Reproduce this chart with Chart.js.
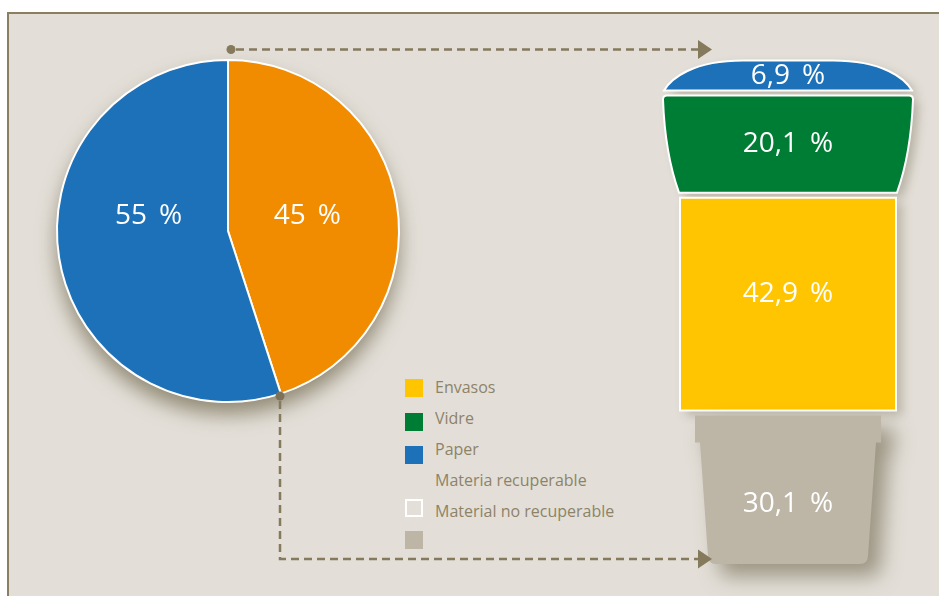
<!DOCTYPE html>
<html>
<head>
<meta charset="utf-8">
<script src="https://cdn.jsdelivr.net/npm/chart.js@4/dist/chart.umd.min.js"></script>
<style>
  html, body { margin: 0; padding: 0; background: #ffffff; width: 939px; height: 596px; overflow: hidden; }
  #frame { position: absolute; left: 7px; top: 12px; width: 960px; height: 620px;
           background: #e3dfd8; border-left: 2px solid #8b7f62; border-top: 2px solid #8b7f62; }
  #pieBox { position: absolute; left: 30px; top: 40px; width: 400px; height: 400px; }
  #binBox { position: absolute; left: 620px; top: 30px; width: 319px; height: 566px; }
  #links { position: absolute; left: 0; top: 0; }
  .legend { position: absolute; font-family: "Open Sans", sans-serif; font-size: 16px; color: #8d8368; }
  .box { position: absolute; width: 18px; height: 18px; box-sizing: border-box; }
</style>
</head>
<body>
<div id="frame"></div>
<div id="pieBox"><canvas id="pie"></canvas></div>
<div id="binBox"><canvas id="bin"></canvas></div>
<div id="legend"></div>
<svg id="links" width="939" height="596">
  <g fill="none" stroke="#857a5c" stroke-width="2.5" stroke-dasharray="8 5">
    <path d="M236 49.5 H699"/>
    <path d="M280 401 V559 H699"/>
  </g>
  <g fill="#857a5c">
    <circle cx="231" cy="49.5" r="4.5"/>
    <circle cx="280" cy="396" r="4.5" fill="#7d7257"/>
    <polygon points="698,40 712,49.5 698,59"/>
    <polygon points="698,549.5 712,559 698,568.5"/>
  </g>
</svg>
<script>
// pie: recoverable vs non-recoverable share
const pieValues = [45, 55];
const pieColors = ["#f18b00", "#1c71b8"];

// bin: composition, stacked bottom to top
const binLabels = ["Material no recuperable", "Envasos", "Vidre", "Paper"];
const binValues = [30.1, 42.9, 20.1, 6.9];
const binColors = ["#bdb5a5", "#ffc500", "#007d34", "#1c71b8"];

// legend
const legendTexts = ["Envasos", "Vidre", "Paper", "Materia recuperable", "Material no recuperable", ""];
const legendBoxes = ["#ffc500", "#007d34", "#1c71b8", null, "white", "#bdb5a5"];

const labelFont = '28px "Open Sans", sans-serif';
const pct = "\u2009 %";
const fmt = v => v.toString().replace(".", ",") + pct;

// ---- legend (html)
const legend = document.getElementById("legend");
const boxTops = [379, 413, 446, 480, 499, 531];
legendBoxes.forEach((c, i) => {
    if (!c) return;
    const b = document.createElement("div");
    b.className = "box";
    b.style.left = "405px";
    b.style.top = boxTops[i] + "px";
    if (c === "white") b.style.border = "2px solid #ffffff";
    else b.style.background = c;
    legend.appendChild(b);
});
legendTexts.forEach((t, i) => {
    if (!t) return;
    const d = document.createElement("div");
    d.className = "legend";
    d.style.left = "435px";
    d.style.top = (376 + i * 31) + "px";
    d.textContent = t;
    legend.appendChild(d);
});

// ---- pie
const pieDecor = {
    id: "pieDecor",
    beforeDatasetsDraw(chart) {
        const arc = chart.getDatasetMeta(0).data[0];
        const ctx = chart.ctx;
        ctx.save();
        ctx.shadowColor = "rgba(90, 80, 50, 0.6)";
        ctx.shadowBlur = 20;
        ctx.shadowOffsetY = 12;
        ctx.fillStyle = "#ffffff";
        ctx.beginPath();
        ctx.arc(arc.x, arc.y, arc.outerRadius, 0, Math.PI * 2);
        ctx.fill();
        ctx.restore();
    },
    afterDatasetsDraw(chart) {
        const ctx = chart.ctx;
        ctx.save();
        ctx.fillStyle = "#ffffff";
        ctx.font = labelFont;
        ctx.textAlign = "center";
        ctx.textBaseline = "middle";
        chart.getDatasetMeta(0).data.forEach((arc, i) => {
            const mid = (arc.startAngle + arc.endAngle) / 2;
            const x = arc.x + Math.cos(mid) * arc.outerRadius * 0.47;
            ctx.fillText(pieValues[i] + pct, x, arc.y - 15);
        });
        ctx.restore();
    }
};

new Chart(document.getElementById("pie"), {
    type: "pie",
    data: {
        labels: ["Materia recuperable", "Material no recuperable"],
        datasets: [{
            data: pieValues,
            backgroundColor: pieColors,
            borderColor: "#ffffff",
            borderWidth: 2
        }]
    },
    options: {
        responsive: true,
        maintainAspectRatio: false,
        animation: false,
        layout: { padding: { left: 26, top: 19, right: 30, bottom: 37 } },
        plugins: { legend: { display: false }, tooltip: { enabled: false } }
    },
    plugins: [pieDecor]
});

// ---- bin
const shapes = ["bin", "rect", "taper", "dome"];
const labelShift = [14, -10, 0, 1];

function binPath(ctx, kind, cx, top, bot) {
    ctx.beginPath();
    if (kind === "rect") {
        ctx.rect(cx - 108, top, 216, bot - top);
    } else if (kind === "taper") {
        const h = bot - top;
        ctx.moveTo(cx - 121, top);
        ctx.lineTo(cx + 121, top);
        ctx.quadraticCurveTo(cx + 125, top, cx + 125, top + 4);
        ctx.quadraticCurveTo(cx + 123, top + h * 0.6, cx + 109, bot);
        ctx.lineTo(cx - 109, bot);
        ctx.quadraticCurveTo(cx - 123, top + h * 0.6, cx - 125, top + 4);
        ctx.quadraticCurveTo(cx - 125, top, cx - 121, top);
    } else if (kind === "dome") {
        ctx.moveTo(cx - 124, bot);
        ctx.bezierCurveTo(cx - 117, top + 18, cx - 95, top, cx - 45, top);
        ctx.lineTo(cx + 45, top);
        ctx.bezierCurveTo(cx + 95, top, cx + 117, top + 18, cx + 124, bot);
    } else {
        const lip = top + 27, r = 8;
        ctx.moveTo(cx - 93, top);
        ctx.lineTo(cx + 93, top);
        ctx.lineTo(cx + 93, lip);
        ctx.lineTo(cx + 88, lip);
        ctx.lineTo(cx + 80, bot - r);
        ctx.quadraticCurveTo(cx + 79.5, bot, cx + 80 - r, bot);
        ctx.lineTo(cx - 80 + r, bot);
        ctx.quadraticCurveTo(cx - 79.5, bot, cx - 80, bot - r);
        ctx.lineTo(cx - 88, lip);
        ctx.lineTo(cx - 93, lip);
    }
    ctx.closePath();
}

const binDraw = {
    id: "binDraw",
    beforeDatasetDraw(chart, args) {
        const i = args.index;
        const el = args.meta.data[0];
        const ctx = chart.ctx;
        const kind = shapes[i];
        const top = el.y + 2.5;
        const bot = kind === "bin" ? el.base - 2 : el.base - 2.5;
        ctx.save();
        ctx.shadowColor = kind === "bin" ? "rgba(85, 75, 45, 0.5)" : "rgba(90, 80, 50, 0.3)";
        ctx.shadowBlur = kind === "bin" ? 20 : 10;
        ctx.shadowOffsetX = kind === "bin" ? 12 : 6;
        ctx.shadowOffsetY = kind === "bin" ? 12 : 4;
        binPath(ctx, kind, el.x, top, bot);
        ctx.fillStyle = binColors[i];
        ctx.fill();
        ctx.shadowColor = "transparent";
        if (kind !== "bin") {
            ctx.strokeStyle = "#ffffff";
            ctx.lineWidth = 2;
            ctx.stroke();
        }
        ctx.fillStyle = "#ffffff";
        ctx.font = labelFont;
        ctx.textAlign = "center";
        ctx.textBaseline = "middle";
        ctx.fillText(fmt(binValues[i]), el.x, (el.y + el.base) / 2 + labelShift[i]);
        ctx.restore();
        return false;
    }
};

new Chart(document.getElementById("bin"), {
    type: "bar",
    data: {
        labels: ["Composició"],
        datasets: binValues.map((v, i) => ({
            label: binLabels[i],
            data: [v],
            backgroundColor: binColors[i],
            barThickness: 216
        }))
    },
    options: {
        responsive: true,
        maintainAspectRatio: false,
        animation: false,
        layout: { padding: { left: 20, top: 28, right: 3, bottom: 30 } },
        scales: {
            x: { stacked: true, display: false },
            y: { stacked: true, display: false, min: 0, max: 100 }
        },
        plugins: { legend: { display: false }, tooltip: { enabled: false } }
    },
    plugins: [binDraw]
});
</script>
</body>
</html>
